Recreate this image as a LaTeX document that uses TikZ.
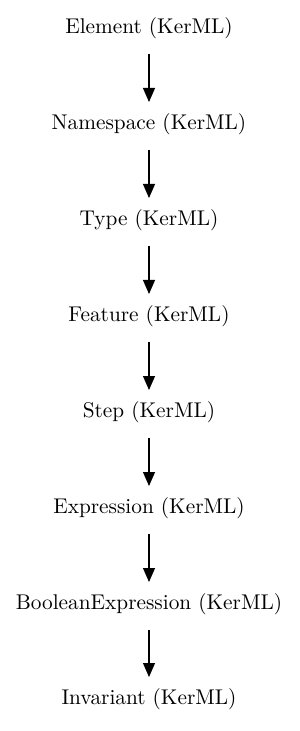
\documentclass[tikz,border=0pt]{standalone}
\usetikzlibrary{arrows.meta}
\begin{document}
\begin{tikzpicture}[x=0.5pt,y=-0.5pt,
  lbl/.style={inner sep=0pt,minimum height=44pt,font=\fontsize{10.65}{12}\selectfont},
  conn/.style={draw=black,line width=0.55pt,-{Triangle[length=7pt,width=6pt]},shorten >=0pt}]
\useasboundingbox (0,0) rectangle (299,731);
\node[lbl] (a) at (149,28) {Element (KerML)};
\node[lbl] (b) at (149,124) {Namespace (KerML)};
\node[lbl] (c) at (149,220) {Type (KerML)};
\node[lbl] (d) at (149,316) {Feature (KerML)};
\node[lbl] (e) at (149,412) {Step (KerML)};
\node[lbl] (f) at (149,508) {Expression (KerML)};
\node[lbl] (g) at (149,604) {BooleanExpression (KerML)};
\node[lbl] (h) at (149,699) {Invariant (KerML)};
\foreach \s/\t in {a/b,b/c,c/d,d/e,e/f,f/g,g/h}
  \draw[conn] ([yshift=-26*0.5pt]\s.center) -- ([yshift=22*0.5pt]\t.center);
\end{tikzpicture}
\end{document}
